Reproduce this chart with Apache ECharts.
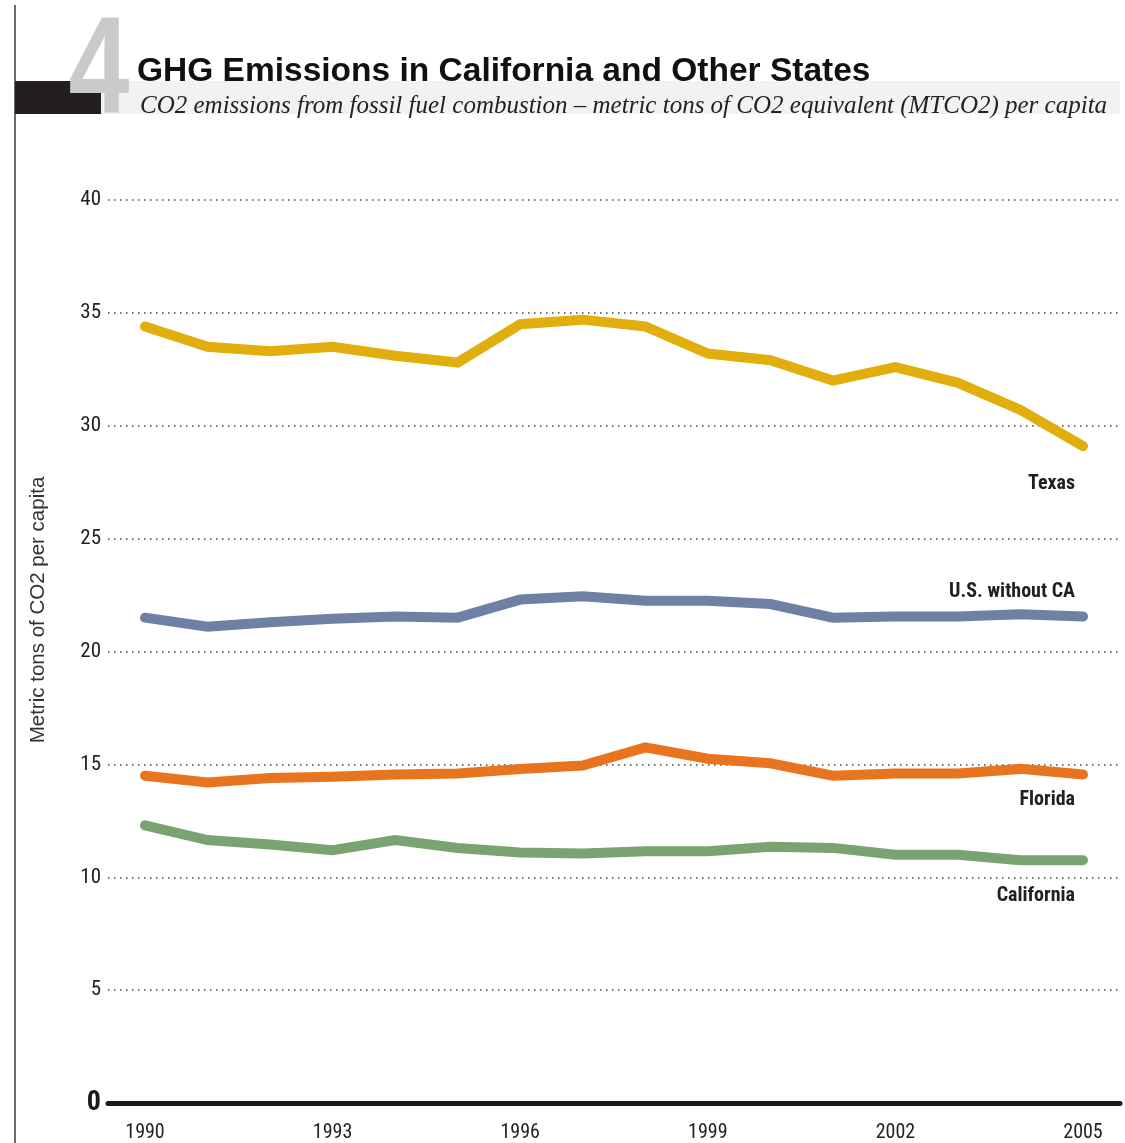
<!DOCTYPE html>
<html>
<head>
<meta charset="utf-8">
<script src="https://cdn.jsdelivr.net/npm/echarts@6/dist/echarts.min.js"></script>
<style>
  html, body { margin: 0; padding: 0; background: #fff; }
  #chart { width: 1125px; height: 1143px; }
</style>
</head>
<body>
<div id="chart"></div>
<script>
// Per-capita CO2 from fossil fuel combustion (MTCO2 per person)
const years = ['1990','1991','1992','1993','1994','1995','1996','1997','1998','1999','2000','2001','2002','2003','2004','2005'];
const texas = [34.4, 33.5, 33.3, 33.5, 33.1, 32.8, 34.5, 34.7, 34.4, 33.2, 32.9, 32.0, 32.6, 31.9, 30.7, 29.1];
const usWithoutCA = [21.5, 21.1, 21.3, 21.45, 21.55, 21.5, 22.3, 22.45, 22.25, 22.25, 22.1, 21.5, 21.55, 21.55, 21.65, 21.55];
const florida = [14.5, 14.2, 14.4, 14.45, 14.55, 14.6, 14.8, 14.95, 15.75, 15.25, 15.05, 14.5, 14.6, 14.6, 14.8, 14.55];
const california = [12.3, 11.65, 11.45, 11.2, 11.65, 11.3, 11.1, 11.05, 11.15, 11.15, 11.35, 11.3, 11.0, 11.0, 10.75, 10.75];
const yMin = 0, yMax = 40, yStep = 5;

const narrow = '"Liberation Sans Narrow", "Roboto Condensed", "Arial Narrow", Roboto, sans-serif';

const chart = echarts.init(document.getElementById('chart'), null, { renderer: 'canvas' });

function stateLine(name, values, color, labelOffset) {
  return {
    name: name,
    type: 'line',
    xAxisIndex: 1,
    yAxisIndex: 1,
    data: values,
    showSymbol: false,
    symbol: 'none',
    silent: true,
    lineStyle: { color: color, width: 10, cap: 'round', join: 'miter' },
    endLabel: {
      show: true,
      formatter: name,
      align: 'right',
      verticalAlign: 'middle',
      offset: labelOffset,
      color: '#1f1f1f',
      fontFamily: narrow,
      fontWeight: 'bold',
      fontSize: 20
    }
  };
}

chart.setOption({
  animation: false,
  backgroundColor: '#ffffff',
  grid: [
    { left: 108, right: 5, top: 200, bottom: 40 },
    { left: 145, right: 42, top: 200, bottom: 40 }
  ],
  xAxis: [
    {
      gridIndex: 0, type: 'value', min: 0, max: 1,
      axisLine: { show: true, lineStyle: { color: '#1a1a1a', width: 5 } },
      axisTick: { show: false }, axisLabel: { show: false }, splitLine: { show: false }
    },
    {
      gridIndex: 1, type: 'category', data: years, boundaryGap: false,
      axisLine: { show: false }, axisTick: { show: false }, splitLine: { show: false },
      axisLabel: { interval: 2, margin: 20, color: '#222', fontSize: 20, fontFamily: narrow }
    }
  ],
  yAxis: [
    {
      gridIndex: 0, type: 'value', min: yMin, max: yMax, interval: yStep,
      axisLine: { show: false }, axisTick: { show: false },
      splitLine: { show: true, lineStyle: { color: '#444', width: 1.5, type: [1.5, 4.5] } },
      axisLabel: {
        margin: 7, color: '#222', fontSize: 21, fontFamily: narrow,
        formatter: function (v) { return v === 0 ? '{zero|0}' : String(v); },
        rich: { zero: { fontSize: 28, fontWeight: 'bold', color: '#1a1a1a', fontFamily: narrow } }
      }
    },
    {
      gridIndex: 1, type: 'value', min: yMin, max: yMax, interval: yStep, show: false,
      splitLine: { show: false }
    }
  ],
  graphic: [
    { type: 'line', silent: true, shape: { x1: 15, y1: 5, x2: 15, y2: 1143 }, style: { stroke: '#6b6b6b', lineWidth: 2 } },
    { type: 'rect', silent: true, shape: { x: 101, y: 81, width: 1019, height: 33 }, style: { fill: '#f1f2f3' } },
    { type: 'rect', silent: true, shape: { x: 15, y: 81, width: 86, height: 33 }, style: { fill: '#231f20' } },
    {
      type: 'text', silent: true, x: 99, y: 74, scaleX: 0.8, originX: 0, originY: 0,
      style: { text: '4', fill: '#c9cacc', font: 'bold 137px "Liberation Sans", Arial, sans-serif', align: 'center', verticalAlign: 'middle' }
    },
    {
      type: 'text', silent: true, x: 137, y: 72,
      style: { text: 'GHG Emissions in California and Other States', fill: '#111', font: 'bold 33.5px "Liberation Sans", Arial, sans-serif', align: 'left', verticalAlign: 'middle' }
    },
    {
      type: 'text', silent: true, x: 140, y: 106,
      style: { text: 'CO2 emissions from fossil fuel combustion \u2013 metric tons of CO2 equivalent (MTCO2) per capita', fill: '#222', font: 'italic 25px "Liberation Serif", "DejaVu Serif", serif', align: 'left', verticalAlign: 'middle' }
    },
    {
      type: 'text', silent: true, x: 38, y: 610, rotation: Math.PI / 2, originX: 0, originY: 0,
      style: { text: 'Metric tons of CO2 per capita', fill: '#333', font: '20.5px "Liberation Sans", Arial, sans-serif', align: 'center', verticalAlign: 'middle' }
    }
  ],
  series: [
    stateLine('Texas', texas, '#e1ae0d', [-16, 38]),
    stateLine('U.S. without CA', usWithoutCA, '#6f7fa6', [-16, -25]),
    stateLine('Florida', florida, '#e8741f', [-16, 25]),
    stateLine('California', california, '#7ba372', [-16, 36])
  ]
});
</script>
</body>
</html>
